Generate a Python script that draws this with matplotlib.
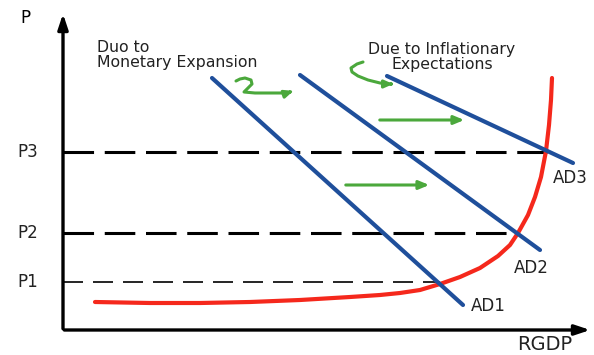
import matplotlib.pyplot as plt

# price levels and axis origin (chart units)
origin = (63, 25)
p_levels = {'P3': 203, 'P2': 122, 'P1': 73}
p_ends = {'P3': 547, 'P2': 518, 'P1': 440}

# short-run aggregate supply (red curve)
sras_x = [95, 150, 200, 250, 300, 350, 380, 400, 420, 440, 460, 480, 498, 510, 518,
          528, 535, 541, 546, 549, 551, 552]
sras_y = [53, 52, 52, 53, 55, 58, 60, 62, 65, 71, 78, 87, 99, 110, 122,
          140, 158, 178, 204, 230, 255, 277]

# aggregate demand lines
ad_names = ['AD1', 'AD2', 'AD3']
ad_x = [[212, 463], [300, 540], [387, 573]]
ad_y = [[277, 50], [280, 105], [279, 192]]
ad_label_pos = [(471, 49), (514, 87), (553, 177)]

# green shift arrows
shift_from = [(343, 170), (377, 235)]
shift_to = [(432, 170), (467, 235)]
curl1_x = [236, 240, 245, 251, 252, 248, 244, 255, 275, 287]
curl1_y = [274, 276, 277, 275, 271, 267, 263, 262, 262, 262]
curl2_x = [363, 357, 351, 352, 358, 368, 380, 388]
curl2_y = [293, 291, 287, 283, 279, 275, 272, 271]

blue = '#1f4f9b'
red = '#f5281c'
green = '#4ba83c'

fig = plt.figure(figsize=(5.94, 3.55), dpi=100)
ax = fig.add_axes([0, 0, 1, 1])
ax.set_xlim(0, 594)
ax.set_ylim(0, 355)
ax.axis('off')

# axes with arrows
ax.annotate('', xy=(origin[0], 344), xytext=(origin[0], origin[1] - 1.5),
            arrowprops=dict(arrowstyle='-|>,head_length=0.9,head_width=0.3', color='black', lw=2.4))
ax.annotate('', xy=(593, origin[1]), xytext=(origin[0] - 1.5, origin[1]),
            arrowprops=dict(arrowstyle='-|>,head_length=0.9,head_width=0.3', color='black', lw=2.4))
ax.text(25, 337, 'P', fontsize=12, ha='center', va='center')
ax.text(545, 10, 'RGDP', fontsize=14, ha='center', va='center', color='#222222')

# price level dashed lines
for name, y in p_levels.items():
    lw = 1.2 if name == 'P1' else 2.2
    dash = (12, 6) if name == 'P1' else (10, 3.5)
    ax.plot([origin[0], p_ends[name]], [y, y], color='black', lw=lw, dashes=dash)
    ax.text(28, y, name, fontsize=12, ha='center', va='center', color='#222222')

ax.plot(sras_x, sras_y, color=red, lw=3, solid_capstyle='round', solid_joinstyle='round')

for name, xs, ys, pos in zip(ad_names, ad_x, ad_y, ad_label_pos):
    ax.plot(xs, ys, color=blue, lw=3, solid_capstyle='round')
    ax.text(pos[0], pos[1], name, fontsize=12, ha='left', va='center', color='#222222')

for a, b in zip(shift_from, shift_to):
    ax.annotate('', xy=b, xytext=a,
                arrowprops=dict(arrowstyle='-|>,head_length=0.6,head_width=0.25', color=green, lw=2.2))

ax.plot(curl1_x, curl1_y, color=green, lw=2.2, solid_capstyle='round', solid_joinstyle='round')
ax.annotate('', xy=(296, 265), xytext=(curl1_x[-1], curl1_y[-1]),
            arrowprops=dict(arrowstyle='-|>,head_length=0.5,head_width=0.22', color=green, lw=2.2))
ax.plot(curl2_x, curl2_y, color=green, lw=2.2, solid_capstyle='round', solid_joinstyle='round')
ax.annotate('', xy=(396, 271), xytext=(curl2_x[-1], curl2_y[-1]),
            arrowprops=dict(arrowstyle='-|>,head_length=0.5,head_width=0.22', color=green, lw=2.2))

ax.text(97, 300, 'Duo to\nMonetary Expansion', fontsize=11.3, ha='left', va='center',
        color='#222222', linespacing=1.05)
ax.text(442, 298, 'Due to Inflationary\nExpectations', fontsize=11.3, ha='center', va='center',
        color='#222222', linespacing=1.05)

fig.savefig('out.png', dpi=100)
